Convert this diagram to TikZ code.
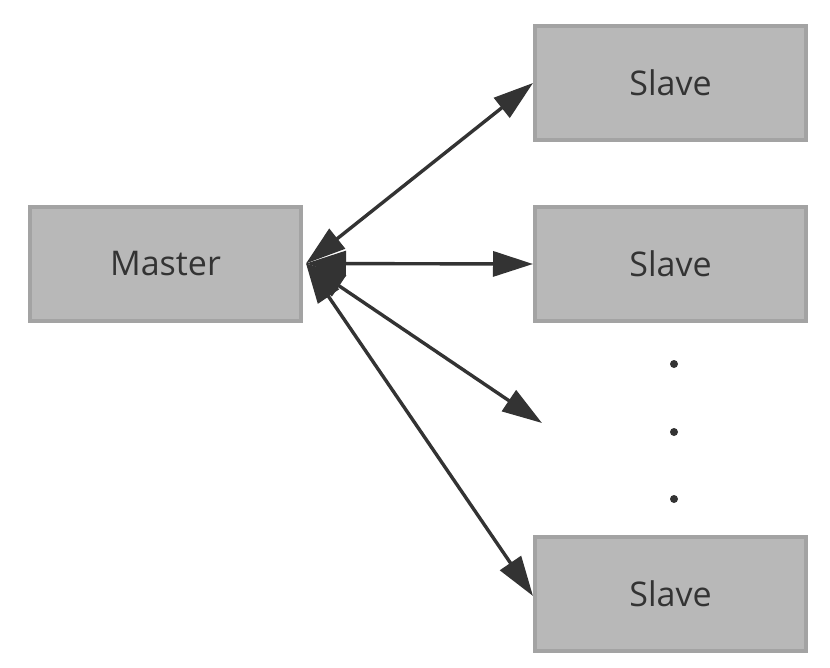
\documentclass[tikz,border=0pt]{standalone}
\usepackage{fontspec}
\setmainfont{Open Sans}
\usetikzlibrary{arrows.meta}
\definecolor{boxfill}{HTML}{B8B8B8}
\definecolor{boxline}{HTML}{A3A3A3}
\definecolor{linkcol}{HTML}{333333}
\begin{document}
\begin{tikzpicture}[x=1pt,y=-1pt,
  box/.style={rectangle,fill=boxfill,draw=boxline,line width=4pt,
    minimum width=271pt,minimum height=114pt,inner sep=0pt,
    text=linkcol,font=\fontsize{34}{40}\selectfont},
  link/.style={linkcol,line width=3.4pt,
    {Triangle[length=40pt,width=25pt]}-{Triangle[length=40pt,width=25pt]}},
  dot/.style={circle,fill=linkcol,inner sep=0pt,minimum size=8pt}]
  \useasboundingbox (0,0) rectangle (830,667);
  \node[box] (master) at (165.5,263.5) {Master};
  \node[box] (slaveA) at (670.5,83) {Slave};
  \node[box] (slaveB) at (670.5,264) {Slave};
  \node[box] (slaveC) at (670.5,594) {Slave};
  \coordinate (gap) at (542,423);
  \node[dot] (dotA) at (674,364) {};
  \node[dot] (dotB) at (674,432) {};
  \node[dot] (dotC) at (674,499) {};
  \draw[link] ([xshift=3pt]master.east) -- (slaveA.west);
  \draw[link] ([xshift=3pt]master.east) -- (slaveB.west);
  \draw[link] ([xshift=3pt]master.east) -- (gap);
  \draw[link] ([xshift=3pt]master.east) -- ([yshift=-2pt]slaveC.west);
\end{tikzpicture}
\end{document}
